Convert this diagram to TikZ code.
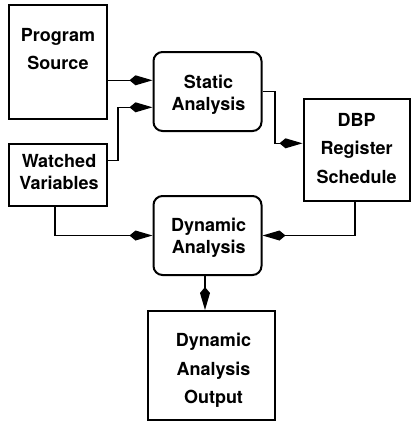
\documentclass[tikz,border=0pt]{standalone}
\usepackage{fontspec}
\setmainfont{TeX Gyre Heros}
\usetikzlibrary{arrows.meta}

\begin{document}
\begin{tikzpicture}[x=1pt,y=-1pt,
  box/.style={draw, line width=2pt, inner sep=0pt},
  rbox/.style={box, rounded corners=9pt},
  lbl/.style={anchor=north, inner sep=0pt, align=center, font=\bfseries\fontsize{18}{22.2}\selectfont},
  widelbl/.style={lbl, font=\bfseries\fontsize{18}{28.5}\selectfont},
  conn/.style={line width=1.5pt, -{Kite[length=23pt,width=10pt,inset=6pt]}}]
\useasboundingbox (0,0) rectangle (411,424);

% boxes
\node[box, minimum width=97.7pt, minimum height=114pt] (psrc) at (58.2,62) {};
\node[rbox, minimum width=108pt, minimum height=79pt] (static) at (207.5,91.5) {};
\node[box, minimum width=106.5pt, minimum height=102pt] (dbp) at (356.75,149.5) {};
\node[box, minimum width=97.7pt, minimum height=62pt] (watch) at (58.2,175) {};
\node[rbox, minimum width=108pt, minimum height=79pt] (dyn) at (207.5,235.5) {};
\node[box, minimum width=127pt, minimum height=109pt] (dout) at (211,365.5) {};

% texts
\node[widelbl] (psrc-t) at (58,27.8) {Program\\Source};
\node[lbl] (static-t) at (208.5,74.4) {Static\\Analysis};
\node[widelbl] (dbp-t) at (356.7,112.8) {DBP\\Register\\Schedule};
\node[lbl] (watch-t) at (59,153.8) {Watched\\Variables};
\node[lbl] (dyn-t) at (208.7,217.4) {Dynamic\\Analysis};
\node[widelbl] (dout-t) at (213.5,333.1) {Dynamic\\Analysis\\Output};

% connectors
\draw[conn] (psrc.east |- 0,80.3) -- (static.west |- 0,80.3);
\draw[conn] (watch.east |- 0,160.7) -- ++(10,0) |- (static.west |- 0,107.3);
\draw[conn] (static.east) -- ++(12.5,0) |- (dbp.west |- 0,143.3);
\draw[conn] (watch.south -| 55,0) |- (dyn.west);
\draw[conn] (dbp.south -| 355,0) |- (dyn.east);
\draw[conn] (dyn.south -| 205,0) -- (dout.north -| 205,0);
\end{tikzpicture}
\end{document}
